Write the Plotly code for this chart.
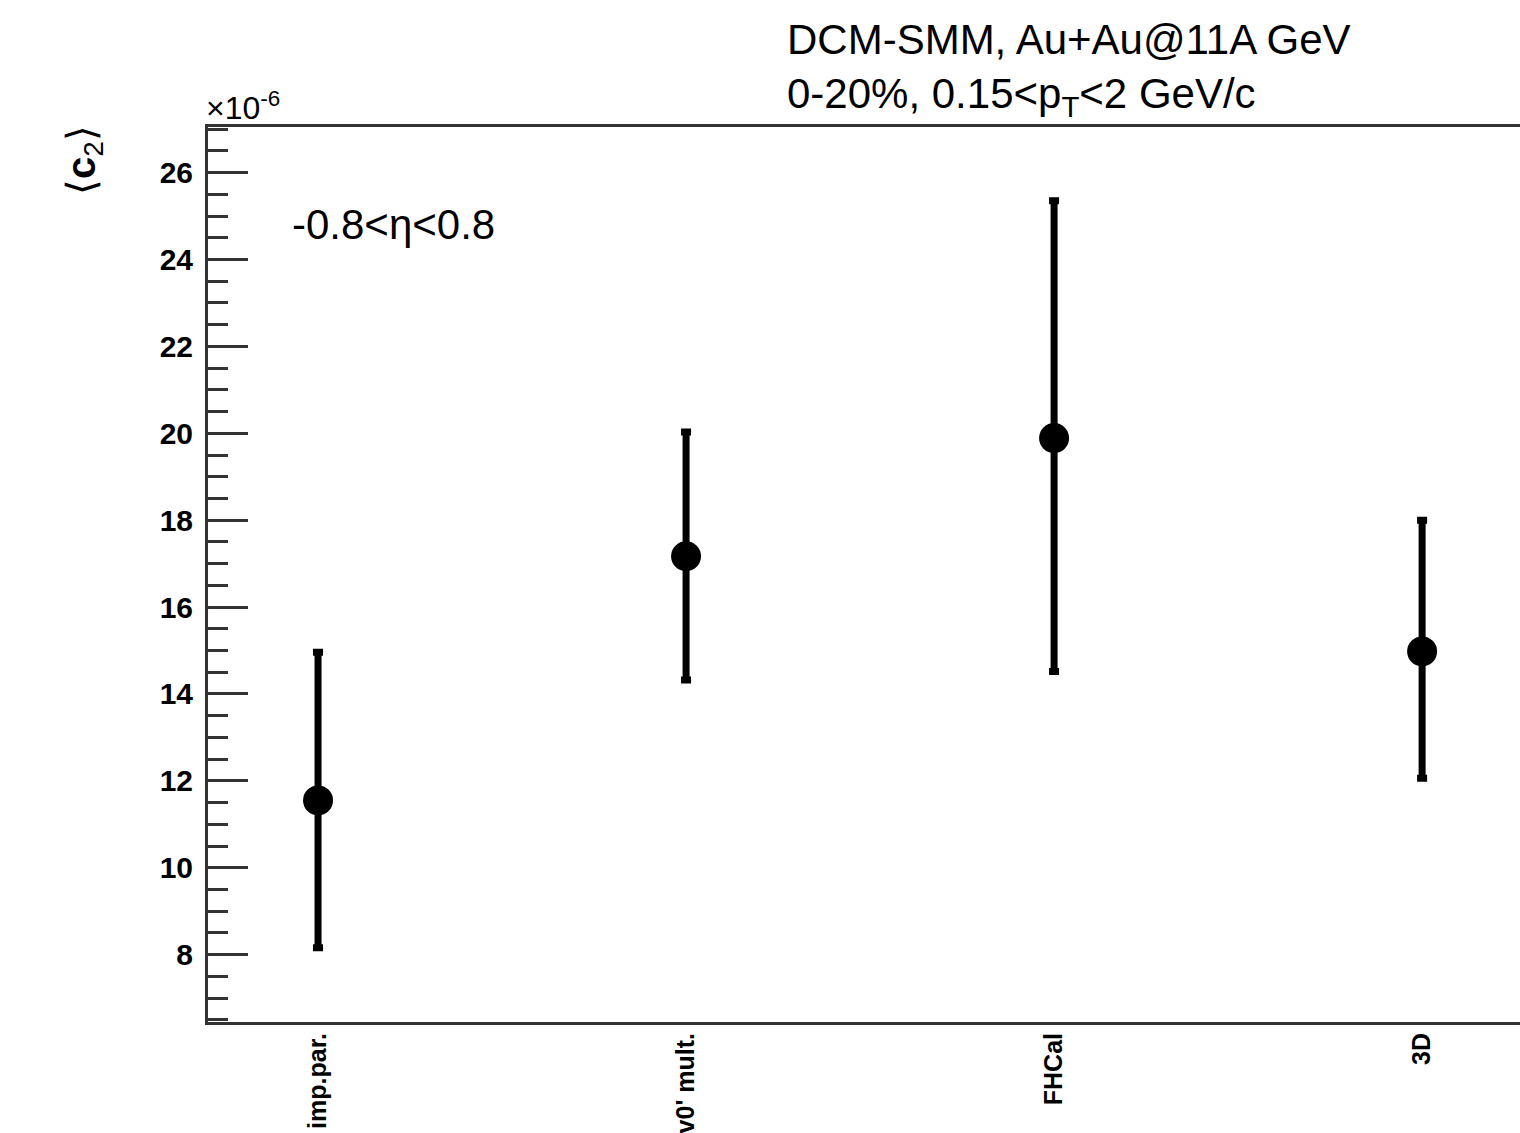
import plotly.graph_objects as go

# <c2> per event-plane / centrality estimator, in units of 1e-6
categories = ["imp.par.", "v0' mult.", "FHCal", "3D"]
c2_mean = [11.55, 17.17, 19.89, 14.98]
c2_upper = [14.96, 20.03, 25.35, 18.00]
c2_lower = [8.16, 14.32, 14.52, 12.06]

err_plus = [u - m for u, m in zip(c2_upper, c2_mean)]
err_minus = [m - l for m, l in zip(c2_mean, c2_lower)]
xpos = list(range(len(categories)))

W, H = 1520, 1133
L, T, B, R = 208, 127, 111, 0
plot_w = W - L - R
plot_h = H - T - B


def px(xp):
    return (xp - L) / plot_w


def py(yp):
    return (H - B - yp) / plot_h


fig = go.Figure()
fig.add_trace(go.Scatter(
    x=xpos, y=c2_mean, mode="markers",
    marker=dict(symbol="circle", size=30, color="black"),
    error_y=dict(type="data", symmetric=False, array=err_plus, arrayminus=err_minus,
                 color="black", thickness=7, width=5),
    showlegend=False,
))

axis_col = "#333333"
fig.update_layout(
    width=W, height=H,
    margin=dict(l=L, r=R, t=T, b=B),
    paper_bgcolor="white", plot_bgcolor="white",
    font=dict(family="Liberation Sans, Arial, sans-serif", color="black"),
    xaxis=dict(
        range=[-0.299, 3.266],
        tickmode="array", tickvals=xpos, ticktext=categories,
        tickangle=-90, ticks="",
        tickfont=dict(family="Liberation Sans, Arial, sans-serif", size=25, color="black", weight="bold"),
        ticklabelstandoff=-2,
        showgrid=False, zeroline=False,
        showline=True, linecolor=axis_col, linewidth=3, mirror=True,
    ),
    yaxis=dict(
        range=[6.45, 27.05],
        tickmode="linear", tick0=0, dtick=2,
        ticks="inside", ticklen=40, tickwidth=3, tickcolor=axis_col,
        minor=dict(ticks="inside", ticklen=20, tickwidth=3, tickcolor=axis_col, dtick=0.5, tick0=0),
        tickfont=dict(family="Liberation Sans, Arial, sans-serif", size=30, color="black", weight="bold"),
        ticklabelstandoff=6,
        showgrid=False, zeroline=False,
        showline=True, linecolor=axis_col, linewidth=3, mirror=False,
    ),
)

annotations = [
    dict(text="DCM-SMM, Au+Au@11A GeV", x=px(785), y=py(40), xanchor="left", yanchor="middle",
         font=dict(size=42)),
    dict(text="0-20%, 0.15&lt;p<sub>T</sub>&lt;2 GeV/c", x=px(785), y=py(97), xanchor="left",
         yanchor="middle", font=dict(size=42)),
    dict(text="-0.8&lt;η&lt;0.8", x=px(290), y=py(224), xanchor="left", yanchor="middle",
         font=dict(size=42)),
    dict(text="×10<sup>-6</sup>", x=px(204), y=py(106), xanchor="left", yanchor="middle",
         font=dict(size=32)),
    dict(text="⟨<b>c</b><sub>2</sub>⟩", x=px(84), y=py(160), xanchor="center", yanchor="middle",
         textangle=-90, font=dict(size=40)),
]
for a in annotations:
    a.update(xref="paper", yref="paper", showarrow=False)
    fig.add_annotation(**a)

fig.write_html("out.html")
